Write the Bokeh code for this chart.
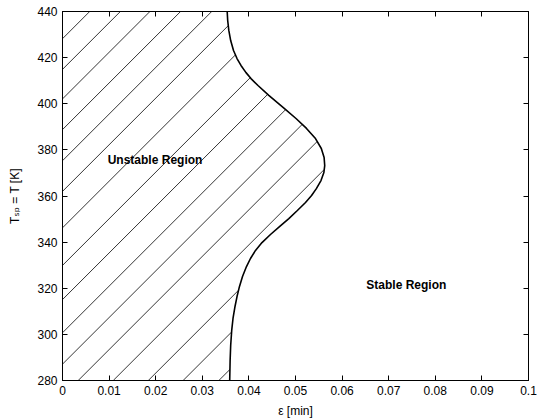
import numpy as np
from bokeh.plotting import figure
from bokeh.models import LinearAxis, FixedTicker, Label, Range1d
from bokeh.embed import file_html
from bokeh.resources import INLINE

# ---- data ----
T_vals = [280.0, 288.7, 295.2, 301.7, 306.9, 312.1, 316.4, 320.8, 325.1, 329.4, 332.9,
          336.4, 339.8, 343.3, 346.8, 350.2, 353.7, 357.2, 360.2, 363.3, 366.7, 370.2,
          373.2, 376.7, 380.6, 384.9, 389.3, 393.6, 397.9, 403.6, 407.9, 410.9, 413.5,
          416.6, 419.6, 423.1, 427.4, 431.8, 436.1, 440.0]
eps_vals = [0.03588, 0.03597, 0.03609, 0.03631, 0.03659, 0.03702, 0.03745, 0.03798, 0.03863, 0.03948, 0.04034,
            0.04142, 0.04281, 0.04463, 0.04663, 0.04857, 0.05040, 0.05215, 0.05345, 0.05451, 0.05547, 0.05609,
            0.05627, 0.05614, 0.05554, 0.05429, 0.05236, 0.05011, 0.04764, 0.04427, 0.04195, 0.04045, 0.03938,
            0.03830, 0.03745, 0.03670, 0.03609, 0.03569, 0.03545, 0.03534]
x_ticks = [0, 0.01, 0.02, 0.03, 0.04, 0.05, 0.06, 0.07, 0.08, 0.09, 0.1]
x_tick_labels = ["0", "0.01", "0.02", "0.03", "0.04", "0.05", "0.06", "0.07", "0.08", "0.09", "0.1"]
y_ticks = [280, 300, 320, 340, 360, 380, 400, 420, 440]
x_label = "ε [min]"
y_label = "Tₛₚ = T [K]"
region_labels = ["Unstable Region", "Stable Region"]
region_x = [0.0097, 0.0652]
region_y = [375.5, 321.5]
# hatch lines: temperature where each (extended) 45-degree line meets eps = 0
hatch_T0 = [212.2, 227.7, 242.8, 258.0, 273.2, 287.1, 300.7, 315.1, 329.9, 346.2,
            362.0, 375.3, 388.8, 402.1, 414.9, 428.2]

X0, X1 = 0.0, 0.1
Y0, Y1 = 280, 440
FW, FH = 466, 369
FONT = "Liberation Sans, DejaVu Sans"
FS = "12px"

p = figure(frame_width=FW, frame_height=FH,
           x_range=Range1d(X0, X1), y_range=Range1d(Y0, Y1),
           output_backend="svg", toolbar_location=None,
           min_border_left=62, min_border_top=11, min_border_right=10, min_border_bottom=40,
           x_axis_label=x_label, y_axis_label=y_label)
p.background_fill_color = "white"
p.border_fill_color = "white"
p.xgrid.visible = False
p.ygrid.visible = False
p.outline_line_color = "black"
p.outline_line_width = 1

xa = p.xaxis[0]
xa.ticker = FixedTicker(ticks=x_ticks)
xa.major_label_overrides = {t: l for t, l in zip(x_ticks, x_tick_labels)}
ya = p.yaxis[0]
ya.ticker = FixedTicker(ticks=y_ticks)
for ax in (xa, ya):
    ax.major_tick_in = 5
    ax.major_tick_out = 0
    ax.minor_tick_line_color = None
    ax.axis_line_color = "black"
    ax.major_tick_line_color = "black"
    ax.major_label_text_font = FONT
    ax.major_label_text_font_size = FS
    ax.major_label_text_color = "black"
    ax.major_label_standoff = 5
    ax.axis_label_text_font = FONT
    ax.axis_label_text_font_size = FS
    ax.axis_label_text_font_style = "normal"
    ax.axis_label_text_color = "black"
xa.axis_label_standoff = 6
ya.axis_label_standoff = 12

for loc, ticks in (("above", x_ticks), ("right", y_ticks)):
    ax = LinearAxis(ticker=FixedTicker(ticks=ticks),
                    major_label_overrides={t: "" for t in ticks},
                    major_label_text_font_size="0px", major_label_standoff=0,
                    major_tick_in=5, major_tick_out=0,
                    minor_tick_line_color=None, axis_line_color="black",
                    major_tick_line_color="black")
    p.add_layout(ax, loc)

# ---- hatch lines (45 degrees on screen) clipped left of the curve ----
sx = FW / (X1 - X0)
sy = FH / (Y1 - Y0)
slope = sx / sy
T_arr = np.array(T_vals)
e_arr = np.array(eps_vals)
eg = np.linspace(X0, X1, 8001)
hx, hy = [], []
for c in hatch_T0:
    Tl = c + slope * eg
    inside = (Tl >= Y0) & (Tl <= Y1) & (eg <= np.interp(Tl, T_arr, e_arr))
    idx = np.where(inside)[0]
    if len(idx) < 2:
        continue
    splits = np.where(np.diff(idx) > 1)[0] + 1
    for grp in np.split(idx, splits):
        if len(grp) < 2:
            continue
        hx.append([eg[grp[0]], eg[grp[-1]]])
        hy.append([Tl[grp[0]], Tl[grp[-1]]])
p.multi_line(hx, hy, line_color="black", line_width=0.8)

p.line(eps_vals, T_vals, line_color="black", line_width=1.6)

for txt, x, y in zip(region_labels, region_x, region_y):
    p.add_layout(Label(x=x, y=y, text=txt, text_font=FONT, text_font_size=FS,
                       text_font_style="bold", text_color="black",
                       text_align="left", text_baseline="middle"))

open("out.html", "w").write(file_html(p, INLINE))
